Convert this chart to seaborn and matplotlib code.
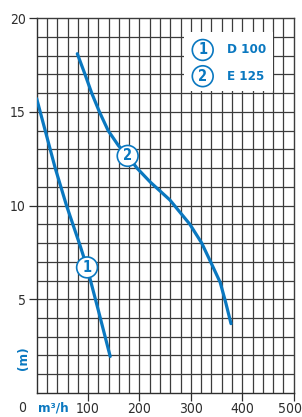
import numpy as np
import pandas as pd
import matplotlib
matplotlib.use('Agg')
import matplotlib.pyplot as plt
import matplotlib.transforms as mtransforms
import seaborn as sns

# ── Data ──────────────────────────────────────────────────────────────────
flow_d100 = [0, 36, 58, 84, 98, 120, 143]
head_d100 = [15.7, 12.0, 10.0, 7.9, 6.7, 4.4, 1.95]

flow_e125 = [79, 94, 107, 122, 139, 159, 177, 195, 221, 259, 298, 321, 340, 357, 368, 378]
head_e125 = [18.1, 17.0, 16.0, 15.0, 14.0, 13.2, 12.65, 12.0, 11.25, 10.3, 9.0, 8.0, 6.9, 5.9, 4.8, 3.7]

x_ticks = [100, 200, 300, 400, 500]
y_ticks = [5, 10, 15, 20]
legend_names = ['D 100', 'E 125']

blue = '#0a78c0'
dark = '#2e2e2e'

df = pd.concat([
    pd.DataFrame({'flow': flow_d100, 'head': head_d100, 'pump': 'D 100'}),
    pd.DataFrame({'flow': flow_e125, 'head': head_e125, 'pump': 'E 125'}),
])

# ── Plot ──────────────────────────────────────────────────────────────────
sns.set_style('white')
plt.rcParams['font.family'] = ['Liberation Sans Narrow', 'DejaVu Sans']
plt.rcParams['font.stretch'] = 'condensed'

fig = plt.figure(figsize=(3.02, 4.17), dpi=100)
ax = fig.add_axes([0.1215, 0.0576, 0.851, 0.899])

# grid
for gx in np.arange(20, 500, 20):
    ax.axvline(gx, color='#3c3c3c', lw=0.9, zorder=1)
for gy in np.arange(1, 20, 1):
    ax.axhline(gy, color='#3c3c3c', lw=0.9, zorder=1)

sns.lineplot(data=df, x='flow', y='head', units='pump', estimator=None,
             color=blue, lw=2.3, sort=False, ax=ax, zorder=3, legend=False)

ax.set_xlim(0, 500)
ax.set_ylim(0, 20)
ax.set_xticks(x_ticks)
ax.set_yticks(y_ticks)
ax.set_xlabel('')
ax.set_ylabel('')
for s in ax.spines.values():
    s.set_color('#3c3c3c')
    s.set_linewidth(1.0)
ax.spines['bottom'].set_color(dark)
ax.spines['left'].set_color(dark)
ax.tick_params(axis='both', length=6, width=0.9, color=dark,
               labelsize=10, labelcolor=dark, pad=2,
               bottom=True, left=True)
ax.tick_params(axis='x', pad=0.5)

# nudge the last x label so it stays inside the picture
last = ax.get_xticklabels()[-1]
last.set_transform(last.get_transform() +
                   mtransforms.ScaledTranslation(-4 / 100, 0, fig.dpi_scale_trans))

# axis annotations
ax.text(-0.055, -0.04, '0', transform=ax.transAxes, fontsize=10,
        color=dark, ha='center', va='center')
ax.text(0.065, -0.04, 'm³/h', transform=ax.transAxes, fontsize=9.5,
        color=blue, fontweight='bold', ha='center', va='center')
ax.text(-0.053, 0.094, '(m)', transform=ax.transAxes, fontsize=9.5,
        color=blue, fontweight='bold', ha='center', va='center', rotation=90)

circ = dict(boxstyle='circle,pad=0.2', fc='white', ec=blue, lw=1.2)

# curve markers
ax.text(98, 6.7, '1', fontsize=10.5, color=blue, fontweight='bold',
        ha='center', va='center', bbox=circ, zorder=5)
ax.text(177, 12.65, '2', fontsize=10.5, color=blue, fontweight='bold',
        ha='center', va='center', bbox=circ, zorder=5)

# legend box
ax.add_patch(plt.Rectangle((287, 16.1), 173, 3.15, fc='white', ec='none', zorder=4))
for i, name in enumerate(legend_names):
    yy = 18.3 - i * 1.4
    ax.text(323, yy, str(i + 1), fontsize=10.5, color=blue, fontweight='bold',
            ha='center', va='center', bbox=circ, zorder=5)
    ax.text(370, yy, name, fontsize=9.5, color=blue, fontweight='bold',
            ha='left', va='center', zorder=5)

fig.savefig('out.png', dpi=100)
